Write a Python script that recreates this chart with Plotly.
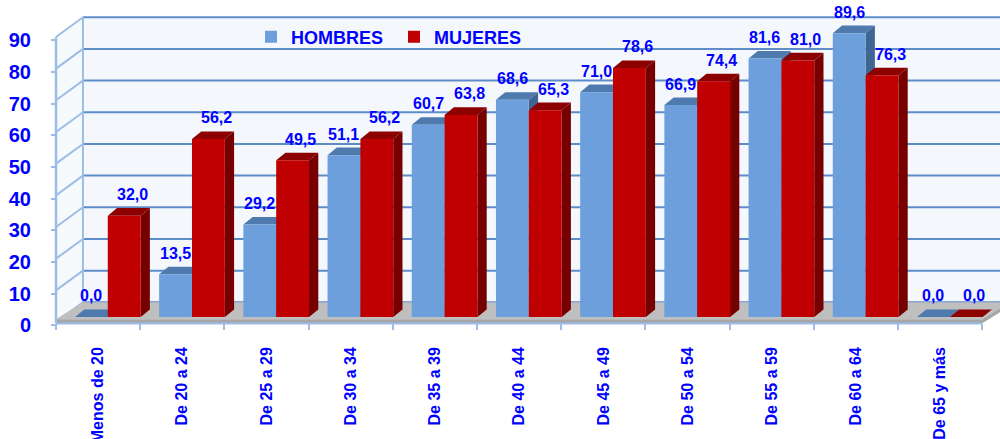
import plotly.graph_objects as go

# ---------------- data ----------------
categories = ["Menos de 20", "De 20 a 24", "De 25 a 29", "De 30 a 34", "De 35 a 39",
              "De 40 a 44", "De 45 a 49", "De 50 a 54", "De 55 a 59", "De 60 a 64",
              "De 65 y más"]
hombres = [0.0, 13.5, 29.2, 51.1, 60.7, 68.6, 71.0, 66.9, 81.6, 89.6, 0.0]
mujeres = [32.0, 56.2, 49.5, 56.2, 63.8, 65.3, 78.6, 74.4, 81.0, 76.3, 0.0]
y_ticks = [0, 10, 20, 30, 40, 50, 60, 70, 80, 90]
series_names = ["HOMBRES", "MUJERES"]

# ---------------- styles / geometry ----------------
FONT = "Liberation Sans, Arial, sans-serif"
BLUE_TXT = "#0000ff"
H_FRONT, H_TOP, H_SIDE = "#6c9fdb", "#4f7aae", "#3f6593"
M_FRONT, M_TOP, M_SIDE = "#c00000", "#8c0000", "#760000"
GRID = "#5e8cc8"
AXIS = "#9cbde6"

W = 0.39          # bar width (category units)
SHIFT = 0.115     # perspective shift of bar pairs
DX, DY = 0.11, 2.4  # bar depth (x in category units, y in value units)
FRONT0 = -1.58    # front floor edge (value units relative to bar baseline)
BACK0 = 4.64      # back wall baseline
WALL_DX = 0.32    # side-wall depth in category units
X_RANGE = [-1.165, 10.711]
Y_RANGE = [-38.52, 100.09]

n = len(categories)
idx = list(range(n))
h_x = [i + SHIFT - W / 2 for i in idx]
m_x = [i + SHIFT + W / 2 for i in idx]

fig = go.Figure()
fig.add_trace(go.Bar(x=h_x, y=hombres, width=W, name=series_names[0],
                     marker=dict(color=H_FRONT, line=dict(width=0)), hoverinfo="skip"))
fig.add_trace(go.Bar(x=m_x, y=mujeres, width=W, name=series_names[1],
                     marker=dict(color=M_FRONT, line=dict(width=0)), hoverinfo="skip"))

shapes = []
# back wall
shapes.append(dict(type="rect", xref="x", yref="y", x0=-0.5 + WALL_DX, x1=11.5,
                   y0=BACK0, y1=90 + BACK0, fillcolor="#f4f8fd", line=dict(width=0), layer="below"))
# side wall
shapes.append(dict(type="path", xref="x", yref="y",
                   path=f"M -0.5,{FRONT0} L {-0.5 + WALL_DX},{BACK0} L {-0.5 + WALL_DX},{90 + BACK0} L -0.5,{90 + FRONT0} Z",
                   fillcolor="#f7fafd", line=dict(width=0), layer="below"))
# grid lines on back wall + diagonals on side wall
for t in y_ticks:
    shapes.append(dict(type="line", xref="x", yref="y", x0=-0.5 + WALL_DX, x1=11.5,
                       y0=t + BACK0, y1=t + BACK0, line=dict(color=GRID, width=2), layer="below"))
    shapes.append(dict(type="line", xref="x", yref="y", x0=-0.5, x1=-0.5 + WALL_DX,
                       y0=t + FRONT0, y1=t + BACK0, line=dict(color=AXIS, width=2), layer="below"))
# back wall left edge
shapes.append(dict(type="line", xref="x", yref="y", x0=-0.5 + WALL_DX, x1=-0.5 + WALL_DX,
                   y0=BACK0, y1=90 + BACK0, line=dict(color=AXIS, width=2), layer="below"))
# floor top face and front strip
shapes.append(dict(type="path", xref="x", yref="y",
                   path=f"M -0.5,{FRONT0 + 0.9} L 10.5,{FRONT0 + 0.9} L {10.5 + WALL_DX},{BACK0} L {-0.5 + WALL_DX},{BACK0} Z",
                   fillcolor="#bfbfbf", line=dict(width=0), layer="below"))
shapes.append(dict(type="path", xref="x", yref="y",
                   path=f"M -0.5,{FRONT0 - 0.4} L 10.5,{FRONT0 - 0.4} L {10.5 + WALL_DX},{BACK0 - 1.3} L {10.5 + WALL_DX},{BACK0} L 10.5,{FRONT0 + 0.9} L -0.5,{FRONT0 + 0.9} Z",
                   fillcolor="#a6a6a6", line=dict(width=0), layer="below"))
# front axes lines
shapes.append(dict(type="line", xref="x", yref="y", x0=-0.5, x1=-0.5,
                   y0=FRONT0 - 0.4, y1=90 + FRONT0, line=dict(color=AXIS, width=2.5), layer="below"))
shapes.append(dict(type="line", xref="x", yref="y", x0=-0.5, x1=10.5,
                   y0=FRONT0 - 0.5, y1=FRONT0 - 0.5, line=dict(color=AXIS, width=2), layer="below"))

# 3D faces of bars (top and side), drawn beneath the front faces
for i in idx:
    for xc, v, top_c, side_c in ((h_x[i], hombres[i], H_TOP, H_SIDE), (m_x[i], mujeres[i], M_TOP, M_SIDE)):
        xl, xr = xc - W / 2, xc + W / 2
        shapes.append(dict(type="path", xref="x", yref="y",
                           path=f"M {xl},{v} L {xr},{v} L {xr + DX},{v + DY} L {xl + DX},{v + DY} Z",
                           fillcolor=top_c, line=dict(width=0), layer="between"))
        if v > 0:
            shapes.append(dict(type="path", xref="x", yref="y",
                               path=f"M {xr},0 L {xr},{v} L {xr + DX},{v + DY} L {xr + DX},{DY} Z",
                               fillcolor=side_c, line=dict(width=0), layer="between"))

annotations = []
for xs, vals, xsh in ((h_x, hombres, 0), (m_x, mujeres, 8)):
    for xc, v in zip(xs, vals):
        annotations.append(dict(x=xc, y=v + DY, xref="x", yref="y", showarrow=False,
                                text=f"{v:.1f}".replace(".", ","), yanchor="bottom",
                                xshift=xsh, yshift=3,
                                font=dict(family=FONT, size=16, color=BLUE_TXT, weight="bold")))

fig.update_layout(
    width=1000, height=439,
    margin=dict(l=0, r=0, t=0, b=0, autoexpand=False),
    paper_bgcolor="white", plot_bgcolor="rgba(0,0,0,0)",
    barmode="overlay",
    shapes=shapes, annotations=annotations,
    showlegend=True,
    legend=dict(orientation="h", x=0.251, y=0.958, xanchor="left", yanchor="top",
                bgcolor="rgba(0,0,0,0)", entrywidth=98,
                font=dict(family=FONT, size=18, color=BLUE_TXT, weight="bold")),
    xaxis=dict(range=X_RANGE, domain=[0, 1], anchor="free", position=(439 - 323) / 439,
               automargin=False,
               tickmode="array", tickvals=idx, ticktext=categories, tickangle=-90,
               ticks="", showgrid=False, zeroline=False, showline=False,
               ticklabelstandoff=20,
               tickfont=dict(family=FONT, size=16, color=BLUE_TXT, weight="bold"),
               minor=dict(tick0=0.5, dtick=1, ticks="outside", ticklen=6, tickwidth=2,
                          tickcolor=AXIS, showgrid=False)),
    yaxis=dict(range=Y_RANGE, domain=[0, 1], anchor="free", position=0.056, side="left",
               automargin=False,
               tickmode="array", tickvals=[t + FRONT0 - 1.1 for t in y_ticks],
               ticktext=[str(t) for t in y_ticks],
               ticks="outside", ticklen=5, tickwidth=2, tickcolor=AXIS,
               showgrid=False, zeroline=False, showline=False,
               ticklabelstandoff=16,
               tickfont=dict(family=FONT, size=20, color=BLUE_TXT, weight="bold")),
)

fig.write_html("out.html", config={"displayModeBar": False},
               post_script="document.body.style.margin='0';")
